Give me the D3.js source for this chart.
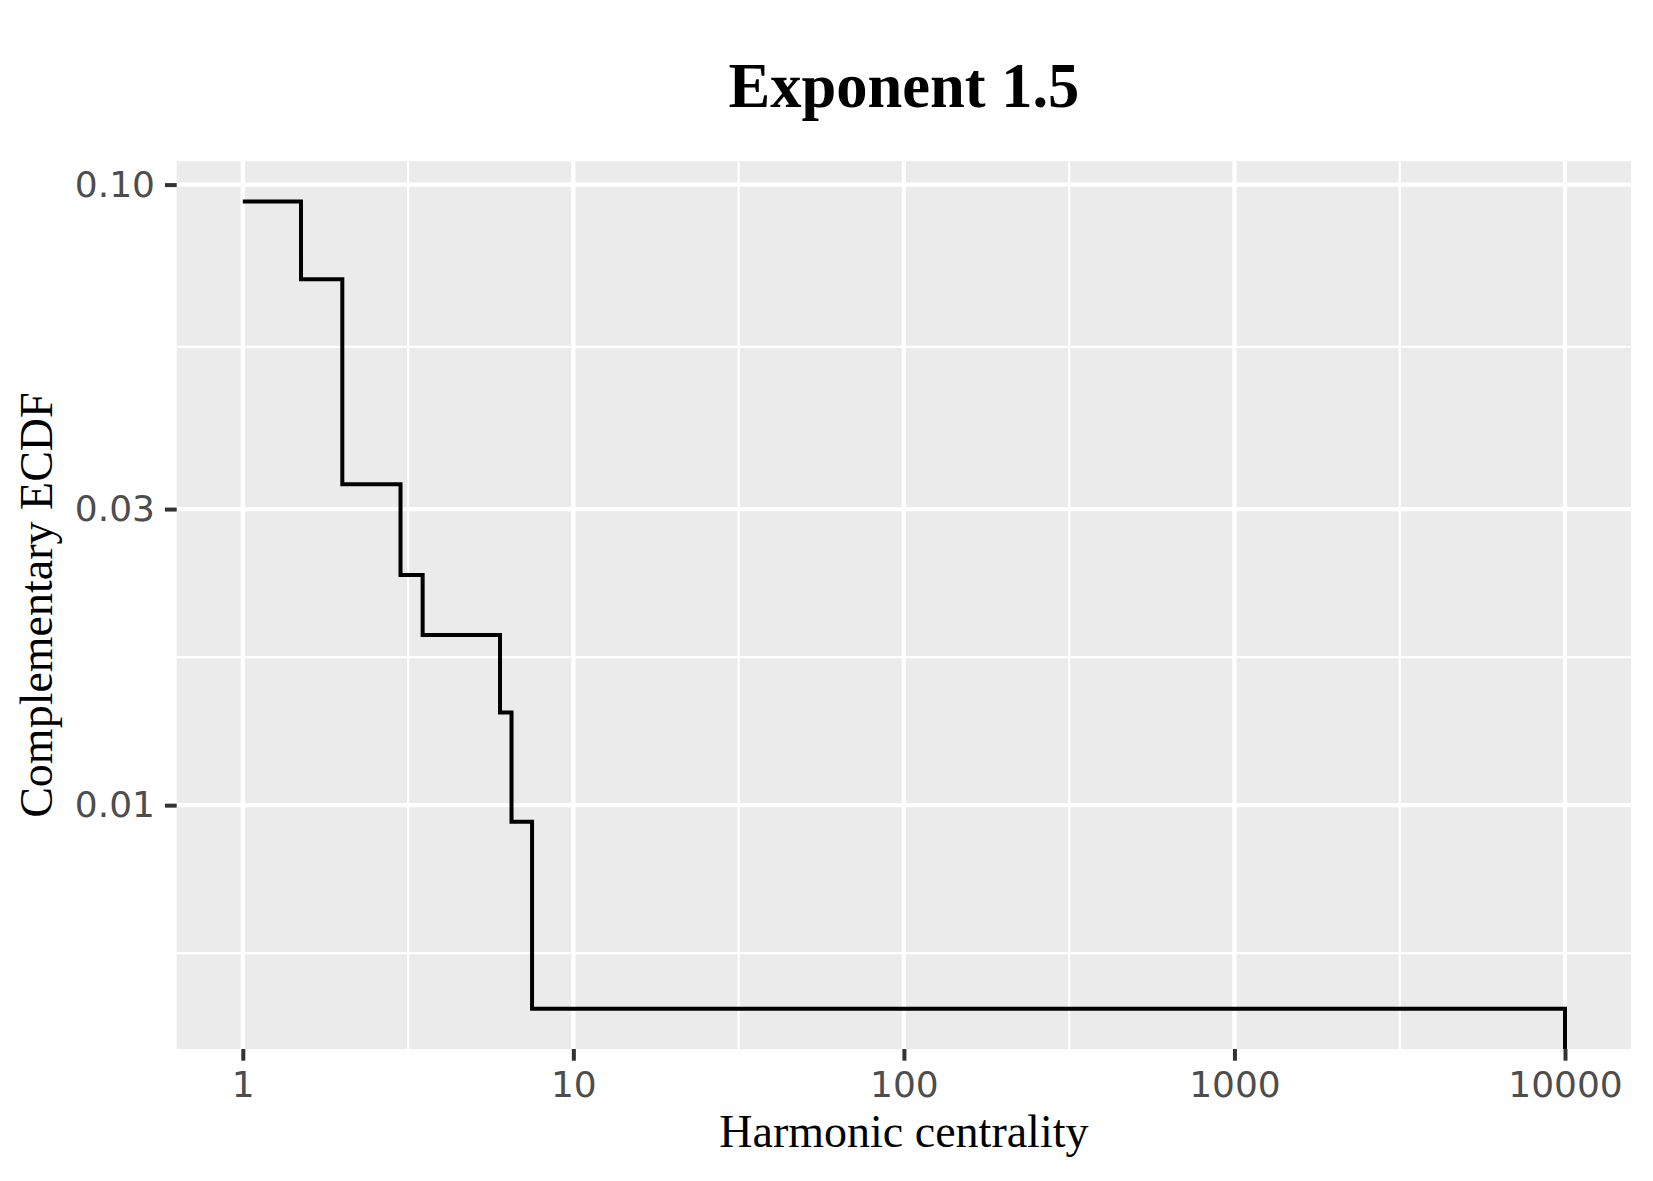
<!DOCTYPE html>
<html>
<head>
<meta charset="utf-8">
<script src="https://cdn.jsdelivr.net/npm/d3@7"></script>
<style>
  html, body { margin: 0; padding: 0; background: #ffffff; }
  svg { display: block; }
</style>
</head>
<body>
<svg id="chart" width="1653" height="1181"></svg>
<script>
// ---- data ----
const harmonicCentrality = [1, 1.5, 2, 3, 3.5, 6, 6.5, 7.5, 10000];
const complementaryEcdf  = [0.0939, 0.0704, 0.0329, 0.0235, 0.0188, 0.0141, 0.0094, 0.0047, 0];
const xTickValues = [1, 10, 100, 1000, 10000];
const xTickLabels = ["1", "10", "100", "1000", "10000"];
const yTickValues = [0.01, 0.03, 0.10];
const yTickLabels = ["0.01", "0.03", "0.10"];
const titleText = "Exponent 1.5";
const xTitle = "Harmonic centrality";
const yTitle = "Complementary ECDF";

// ---- layout ----
const W = 1653, H = 1181;
const margin = { top: 161.2, right: 21.9, bottom: 132, left: 176.7 };
const panelW = W - margin.left - margin.right;
const panelH = H - margin.top - margin.bottom;

const svg = d3.select("#chart");

// ggplot-like 5% expansion in log space
function expandLog(values) {
  const pos = values.filter(v => v > 0).map(Math.log10);
  const lo = d3.min(pos), hi = d3.max(pos);
  const pad = (hi - lo) * 0.05;
  return [Math.pow(10, lo - pad), Math.pow(10, hi + pad)];
}

const x = d3.scaleLog().domain(expandLog(harmonicCentrality)).range([0, panelW]);
const y = d3.scaleLog().domain(expandLog(complementaryEcdf)).range([panelH, 0]);

const g = svg.append("g").attr("transform", `translate(${margin.left},${margin.top})`);

// panel background
g.append("rect").attr("width", panelW).attr("height", panelH).attr("fill", "#EBEBEB");

// minor gridlines (midpoints between major breaks in log space)
function minorBetween(ticks, scale) {
  const lt = ticks.map(Math.log10);
  const out = [];
  for (let i = 0; i < lt.length - 1; i++) out.push((lt[i] + lt[i + 1]) / 2);
  out.push(lt[0] - (lt[1] - lt[0]) / 2);
  out.push(lt[lt.length - 1] + (lt[lt.length - 1] - lt[lt.length - 2]) / 2);
  const [d0, d1] = scale.domain().map(Math.log10);
  return out.filter(v => v >= Math.min(d0, d1) && v <= Math.max(d0, d1)).map(v => Math.pow(10, v));
}
const xMinor = minorBetween(xTickValues, x);
const yMinor = minorBetween(yTickValues, y);

g.selectAll(".xminor").data(xMinor).join("line")
  .attr("x1", d => x(d)).attr("x2", d => x(d)).attr("y1", 0).attr("y2", panelH)
  .attr("stroke", "#ffffff").attr("stroke-width", 2.2);
g.selectAll(".yminor").data(yMinor).join("line")
  .attr("y1", d => y(d)).attr("y2", d => y(d)).attr("x1", 0).attr("x2", panelW)
  .attr("stroke", "#ffffff").attr("stroke-width", 2.2);

// major gridlines
g.selectAll(".xmajor").data(xTickValues).join("line")
  .attr("x1", d => x(d)).attr("x2", d => x(d)).attr("y1", 0).attr("y2", panelH)
  .attr("stroke", "#ffffff").attr("stroke-width", 4.3);
g.selectAll(".ymajor").data(yTickValues).join("line")
  .attr("y1", d => y(d)).attr("y2", d => y(d)).attr("x1", 0).attr("x2", panelW)
  .attr("stroke", "#ffffff").attr("stroke-width", 4.3);

// clip
svg.append("defs").append("clipPath").attr("id", "panelClip")
  .append("rect").attr("width", panelW).attr("height", panelH);

// step line
const pts = harmonicCentrality.map((h, i) => [h, complementaryEcdf[i]]);
const line = d3.line()
  .x(d => x(d[0]))
  .y(d => d[1] > 0 ? y(d[1]) : y.range()[0])
  .curve(d3.curveStepAfter);
g.append("path").datum(pts)
  .attr("clip-path", "url(#panelClip)")
  .attr("d", line)
  .attr("fill", "none").attr("stroke", "#000000").attr("stroke-width", 4)
  .attr("stroke-linejoin", "miter").attr("stroke-linecap", "butt");

// axes
const xAxis = d3.axisBottom(x).tickValues(xTickValues)
  .tickFormat((d, i) => xTickLabels[i]).tickSize(11.7).tickPadding(9);
const yAxis = d3.axisLeft(y).tickValues(yTickValues)
  .tickFormat((d, i) => yTickLabels[i]).tickSize(11.7).tickPadding(10);

const gx = g.append("g").attr("transform", `translate(0,${panelH})`).call(xAxis);
const gy = g.append("g").call(yAxis);
[gx, gy].forEach(ax => {
  ax.select(".domain").remove();
  ax.selectAll(".tick line").attr("stroke", "#333333").attr("stroke-width", 4);
  ax.selectAll(".tick text")
    .attr("fill", "#4D4D4D")
    .style("font-family", "'DejaVu Sans', sans-serif")
    .style("font-size", "36px");
});
gx.selectAll(".tick text").attr("dy", "0.76em");

// titles
svg.append("text")
  .attr("x", margin.left + panelW / 2).attr("y", 106.7)
  .attr("text-anchor", "middle")
  .style("font-family", "'Liberation Serif', serif")
  .style("font-weight", "bold").style("font-size", "62.5px")
  .attr("fill", "#000000")
  .text(titleText);

svg.append("text")
  .attr("x", margin.left + panelW / 2).attr("y", 1146.7)
  .attr("text-anchor", "middle")
  .style("font-family", "'Liberation Serif', serif")
  .style("font-size", "46px")
  .attr("fill", "#000000")
  .text(xTitle);

svg.append("text")
  .attr("transform", `translate(51.7,${margin.top + panelH / 2}) rotate(-90)`)
  .attr("text-anchor", "middle")
  .style("font-family", "'Liberation Serif', serif")
  .style("font-size", "46px")
  .attr("fill", "#000000")
  .text(yTitle);
</script>
</body>
</html>
